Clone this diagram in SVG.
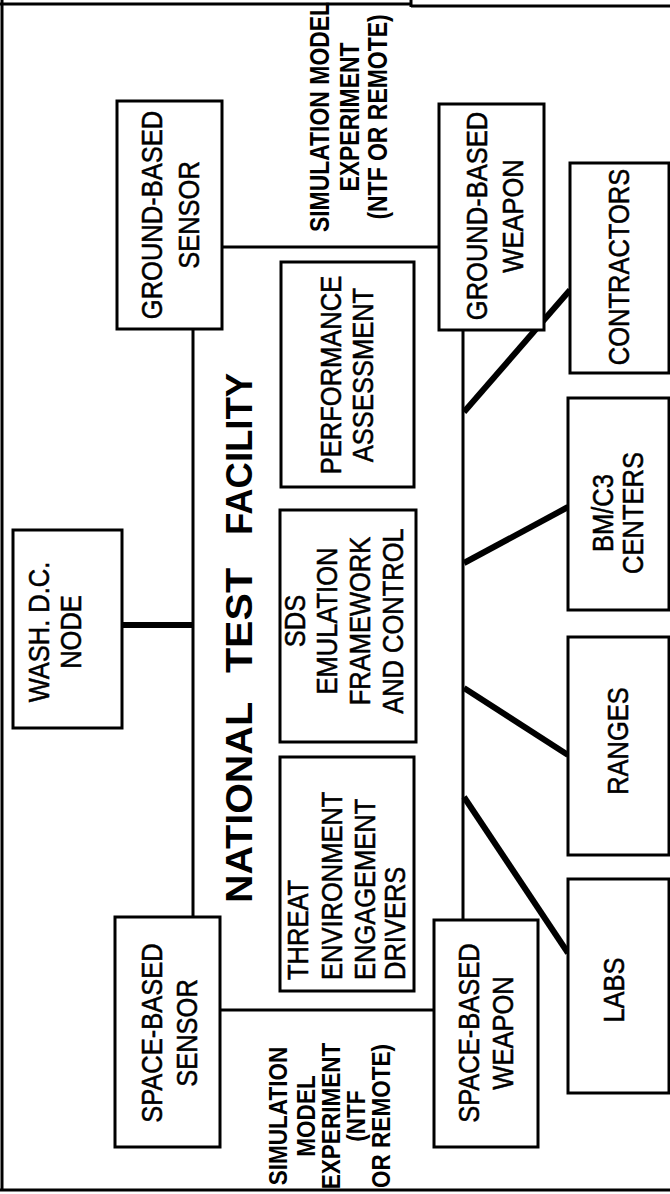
<svg xmlns="http://www.w3.org/2000/svg" width="670" height="1194" viewBox="0 0 670 1194">
<style>
.box{fill:#fff;stroke:#000;stroke-width:3}
.lbl{font-family:"Liberation Sans",Arial,sans-serif;font-size:29px;fill:#000;stroke:#000;stroke-width:0.5;text-anchor:middle}
.lbls{font-family:"Liberation Sans",Arial,sans-serif;font-size:29px;fill:#000;stroke:#000;stroke-width:0.5;text-anchor:start}
.sim{font-family:"Liberation Sans",Arial,sans-serif;font-size:27px;font-weight:bold;fill:#000;text-anchor:middle}
.title{font-family:"Liberation Sans",Arial,sans-serif;font-size:36px;font-weight:bold;fill:#000;text-anchor:start}
.thin{stroke:#000;stroke-width:3;fill:none}
.thick{stroke:#000;stroke-width:6;fill:none;stroke-linecap:butt}
.frame{stroke:#000;stroke-width:3;fill:none}
</style>
<rect width="670" height="1194" fill="#fff"/>
<g id="frame">
<path class="frame" d="M0,4 H411 M411,0 V7 M411,6 H670"/>
<path class="frame" d="M2,0 V1190" stroke-width="2"/>
<path class="frame" d="M0,1190 H670" stroke-width="4"/>
</g>
<g id="connectors">
<path class="thin" d="M222,247 H439"/>
<path class="thin" d="M220,1010 H434"/>
<path class="thin" d="M193,329 V917"/>
<path class="thin" d="M463,330 V920"/>
<path class="thick" d="M122,625 H193" stroke-width="5"/>
<path class="thick" d="M570,290 L464,412"/>
<path class="thick" d="M568,507 L464,563"/>
<path class="thick" d="M568,755 L464,688"/>
<path class="thick" d="M464,797 L568,953"/>
</g>
<g id="title">
<text class="title" transform="translate(0,903) rotate(-90)" x="0" y="252" textLength="201" lengthAdjust="spacingAndGlyphs">NATIONAL</text>
<text class="title" transform="translate(0,673) rotate(-90)" x="0" y="252" textLength="105" lengthAdjust="spacingAndGlyphs">TEST</text>
<text class="title" transform="translate(0,535) rotate(-90)" x="0" y="252" textLength="162" lengthAdjust="spacingAndGlyphs">FACILITY</text>
</g>
<g id="sim-top">
<text class="sim" transform="translate(0,117) rotate(-90) scale(0.85,1)"><tspan x="0" y="329">SIMULATION MODEL</tspan><tspan x="0" y="359">EXPERIMENT</tspan><tspan x="0" y="387">(NTF OR REMOTE)</tspan></text>
</g>
<g id="sim-bottom">
<text class="sim" style="font-size:26.5px" transform="translate(0,1116) rotate(-90) scale(0.85,1)"><tspan x="0" y="287">SIMULATION</tspan><tspan x="0" y="315">MODEL</tspan><tspan x="0" y="340">EXPERIMENT</tspan><tspan x="0" y="365">(NTF</tspan><tspan x="0" y="390">OR REMOTE)</tspan></text>
</g>
<g id="ground-based-sensor">
<rect class="box" x="117" y="101" width="105" height="228"/>
<text class="lbl" transform="translate(0,215) rotate(-90) scale(0.88,1)"><tspan x="0" y="162">GROUND-BASED</tspan><tspan x="0" y="199">SENSOR</tspan></text>
</g>
<g id="ground-based-weapon">
<rect class="box" x="439" y="104" width="105" height="226"/>
<text class="lbl" transform="translate(0,216) rotate(-90) scale(0.88,1)"><tspan x="0" y="487">GROUND-BASED</tspan><tspan x="0" y="523">WEAPON</tspan></text>
</g>
<g id="contractors">
<rect class="box" x="570" y="163" width="99" height="210"/>
<text class="lbl" transform="translate(0,267) rotate(-90) scale(0.88,1)"><tspan x="0" y="629">CONTRACTORS</tspan></text>
</g>
<g id="performance-assessment">
<rect class="box" x="281" y="262" width="133" height="225"/>
<text class="lbl" transform="translate(0,375) rotate(-90) scale(0.88,1)"><tspan x="0" y="341">PERFORMANCE</tspan><tspan x="0" y="373">ASSESSMENT</tspan></text>
</g>
<g id="wash-dc-node">
<rect class="box" x="13" y="530" width="109" height="198"/>
<text class="lbl" transform="translate(0,632) rotate(-90) scale(0.88,1)"><tspan x="0" y="49">WASH. D.C.</tspan><tspan x="0" y="81">NODE</tspan></text>
</g>
<g id="sds-emulation">
<rect class="box" x="280" y="510" width="136" height="232"/>
<text class="lbl" transform="translate(0,621) rotate(-90) scale(0.88,1)"><tspan x="0" y="305">SDS</tspan><tspan x="0" y="337">EMULATION</tspan><tspan x="0" y="370">FRAMEWORK</tspan><tspan x="0" y="403">AND CONTROL</tspan></text>
</g>
<g id="bmc3-centers">
<rect class="box" x="568" y="398" width="101" height="212"/>
<text class="lbl" transform="translate(0,513) rotate(-90) scale(0.88,1)"><tspan x="0" y="613">BM/C3</tspan><tspan x="0" y="643">CENTERS</tspan></text>
</g>
<g id="ranges">
<rect class="box" x="568" y="637" width="101" height="218"/>
<text class="lbl" transform="translate(0,741) rotate(-90) scale(0.88,1)"><tspan x="0" y="628">RANGES</tspan></text>
</g>
<g id="threat-drivers">
<rect class="box" x="280" y="757" width="134" height="234"/>
<text class="lbls" transform="translate(0,980) rotate(-90) scale(0.88,1)"><tspan x="0" y="308">THREAT</tspan><tspan x="0" y="342">ENVIRONMENT</tspan><tspan x="0" y="375">ENGAGEMENT</tspan><tspan x="0" y="405">DRIVERS</tspan></text>
</g>
<g id="labs">
<rect class="box" x="568" y="879" width="101" height="214"/>
<text class="lbl" transform="translate(0,990) rotate(-90) scale(0.88,1)"><tspan x="0" y="624">LABS</tspan></text>
</g>
<g id="space-based-sensor">
<rect class="box" x="115" y="917" width="105" height="230"/>
<text class="lbl" transform="translate(0,1033) rotate(-90) scale(0.88,1)"><tspan x="0" y="162">SPACE-BASED</tspan><tspan x="0" y="197">SENSOR</tspan></text>
</g>
<g id="space-based-weapon">
<rect class="box" x="434" y="920" width="104" height="227"/>
<text class="lbl" transform="translate(0,1033) rotate(-90) scale(0.88,1)"><tspan x="0" y="479">SPACE-BASED</tspan><tspan x="0" y="513">WEAPON</tspan></text>
</g>
</svg>
